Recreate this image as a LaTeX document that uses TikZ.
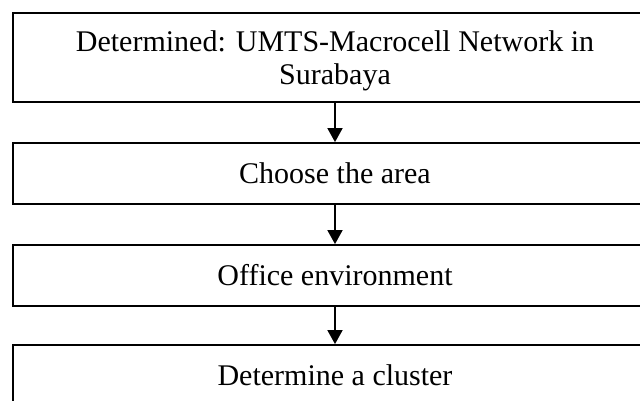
\documentclass[tikz,border=0pt]{standalone}
\usepackage{fontspec}
\setmainfont{Liberation Serif}
\usepackage{tikz}
\usetikzlibrary{arrows.meta}

\tikzset{
  flowbox/.style={draw, line width=1.8pt, minimum width=644pt, minimum height=61pt,
    inner sep=0pt, align=center, font=\fontsize{30}{33}\selectfont},
  flowarrow/.style={line width=1.8pt, -{Triangle[width=15pt,length=14pt]}}
}

\begin{document}
\begin{tikzpicture}[x=1pt, y=-1pt]
      \useasboundingbox (0,0) rectangle (640,401);
      \clip (0,0) rectangle (640,401);

      \node [flowbox, minimum height=89pt] (umts) at (335, 57.5)
        {\rule{0pt}{28pt}Determined: UMTS-Macrocell Network in\\Surabaya};
      \node [flowbox] (area) at (335, 173.5) {Choose the area};
      \node [flowbox] (office) at (335, 275.5) {Office environment};
      \node [flowbox] (cluster) at (335, 375.5) {Determine a cluster};

      \draw [flowarrow] (umts) -- (area);
      \draw [flowarrow] (area) -- (office);
      \draw [flowarrow] (office) -- (cluster);
    \end{tikzpicture}
\end{document}
